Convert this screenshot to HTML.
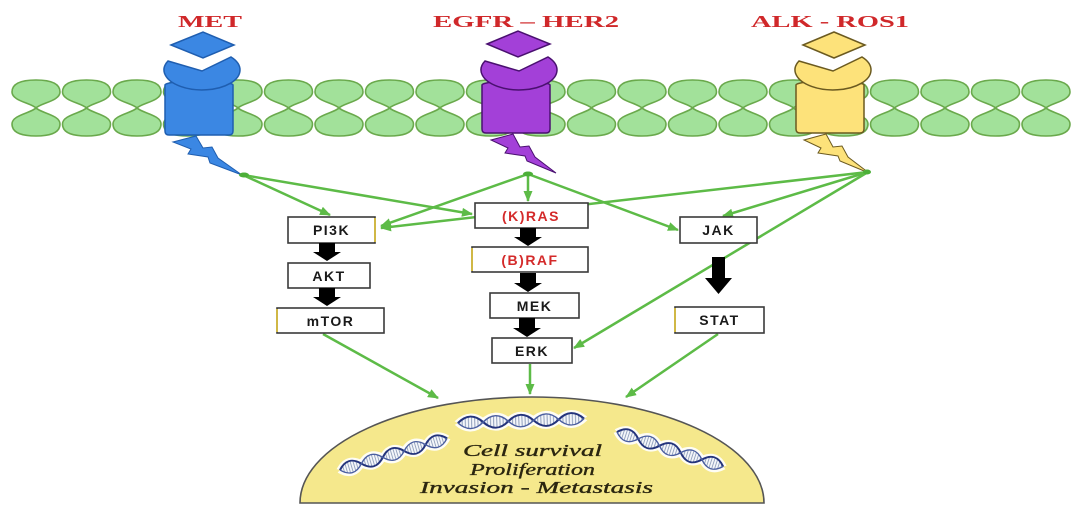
<!DOCTYPE html>
<html>
<head>
<meta charset="utf-8">
<style>
html,body{margin:0;padding:0;background:#fff;}
svg{display:block;}
.lbl{font-family:"Liberation Sans",sans-serif;font-weight:bold;font-size:14px;fill:#1a1a1a;}
.red{fill:#d42a2a;}
.ttl{font-family:"Liberation Serif",serif;font-weight:bold;font-size:17px;fill:#d0282a;}
.ital{font-family:"Liberation Serif",serif;font-style:italic;font-size:17px;fill:#2b2610;stroke:#2b2610;stroke-width:0.35;}
</style>
</head>
<body>
<svg width="1080" height="514" viewBox="0 0 1080 514" xmlns="http://www.w3.org/2000/svg">
<defs>
  <marker id="ah" markerUnits="userSpaceOnUse" markerWidth="11" markerHeight="9" refX="10" refY="4.5" orient="auto">
    <path d="M0,0 L11,4.5 L0,9 Z" fill="#5dbb47"/>
  </marker>
  <g id="leafpair">
    <path d="M0,108 C-5,103 -24,101 -24,92 C-24,82 -12,80 0,80 C12,80 24,82 24,92 C24,101 5,103 0,108 Z" fill="#a2e19a" stroke="#6aa94c" stroke-width="1.6"/>
    <path d="M0,108 C-5,113 -24,115 -24,124 C-24,134 -12,136 0,136 C12,136 24,134 24,124 C24,115 5,113 0,108 Z" fill="#a2e19a" stroke="#6aa94c" stroke-width="1.6"/>
  </g>
  <pattern id="hatch" patternUnits="userSpaceOnUse" width="3" height="6">
    <rect width="3" height="6" fill="#f4f6fa"/>
    <line x1="1" y1="0" x2="1" y2="6" stroke="#8a9ab8" stroke-width="0.9"/>
  </pattern>
  <g id="helix">
    <path d="M0,0 Q12,-16 24,0 Q36,16 48,0 Q60,-16 72,0 Q84,16 96,0 Q108,-16 120,0" fill="none" stroke="#fff" stroke-width="8" opacity="0.9"/>
    <path d="M0,0 Q12,16 24,0 Q36,-16 48,0 Q60,16 72,0 Q84,-16 96,0 Q108,16 120,0" fill="none" stroke="#fff" stroke-width="8" opacity="0.9"/>
    <path d="M0,0 Q12,-16 24,0 Q36,16 48,0 Q60,-16 72,0 Q84,16 96,0 Q108,-16 120,0 Q108,16 96,0 Q84,-16 72,0 Q60,16 48,0 Q36,-16 24,0 Q12,16 0,0 Z" fill="url(#hatch)"/>
    <path d="M0,0 Q12,-16 24,0 Q36,16 48,0 Q60,-16 72,0 Q84,16 96,0 Q108,-16 120,0" fill="none" stroke="#24347c" stroke-width="2.4"/>
    <path d="M0,0 Q12,16 24,0 Q36,-16 48,0 Q60,16 72,0 Q84,-16 96,0 Q108,16 120,0" fill="none" stroke="#4a5ea0" stroke-width="1.7"/>
  </g>
</defs>

<!-- titles -->
<text class="ttl" x="178" y="27" textLength="64" lengthAdjust="spacingAndGlyphs">MET</text>
<text class="ttl" x="433" y="27" textLength="186" lengthAdjust="spacingAndGlyphs">EGFR – HER2</text>
<text class="ttl" x="751" y="27" textLength="158" lengthAdjust="spacingAndGlyphs">ALK - ROS1</text>

<!-- membrane -->
<g>
  <use href="#leafpair" x="36"/><use href="#leafpair" x="86.5"/><use href="#leafpair" x="137"/>
  <use href="#leafpair" x="187.5"/><use href="#leafpair" x="238"/><use href="#leafpair" x="288.5"/>
  <use href="#leafpair" x="339"/><use href="#leafpair" x="389.5"/><use href="#leafpair" x="440"/>
  <use href="#leafpair" x="490.5"/><use href="#leafpair" x="541"/><use href="#leafpair" x="591.5"/>
  <use href="#leafpair" x="642"/><use href="#leafpair" x="692.5"/><use href="#leafpair" x="743"/>
  <use href="#leafpair" x="793.5"/><use href="#leafpair" x="844"/><use href="#leafpair" x="894.5"/>
  <use href="#leafpair" x="945"/><use href="#leafpair" x="995.5"/><use href="#leafpair" x="1046"/>
</g>

<!-- MET receptor -->
<g transform="translate(165,0)">
  <path d="M6,45 L38,32 L69,45 L38,58 Z" fill="#3b87e3" stroke="#1f5eb0" stroke-width="1.5"/>
  <path d="M0,85 L0,131 Q0,135 4,135 L64,135 Q68,135 68,131 L68,85 A34,4 0 0,0 0,85 Z" fill="#3b87e3" stroke="#1f5eb0" stroke-width="1.5"/>
  <path d="M3,61 L37,71 L66,57 A38,20 0 1,1 3,61 Z" fill="#3b87e3" stroke="#1f5eb0" stroke-width="1.5"/>
  <path d="M8,142 L31,136 L38,148 L47,147 L53,158 L77,175 L45,163 L43,157 L23,154 L26,149 Z" fill="#3b87e3" stroke="#1f5eb0" stroke-width="1"/>
</g>
<!-- EGFR receptor -->
<g transform="translate(482,0)">
  <path d="M5,44 L36,31 L68,44 L36,57 Z" fill="#a340d8" stroke="#4a1070" stroke-width="1.5"/>
  <path d="M0,85 L0,129 Q0,133 4,133 L64,133 Q68,133 68,129 L68,85 A34,4 0 0,0 0,85 Z" fill="#a340d8" stroke="#4a1070" stroke-width="1.5"/>
  <path d="M3,61 L37,71 L66,57 A38,20 0 1,1 3,61 Z" fill="#a340d8" stroke="#4a1070" stroke-width="1.5"/>
  <path d="M9,140 L31,134 L38,147 L47,146 L53,157 L74,173 L45,161 L43,156 L23,153 L26,148 Z" fill="#a340d8" stroke="#4a1070" stroke-width="1"/>
</g>
<!-- ALK receptor -->
<g transform="translate(796,0)">
  <path d="M7,45 L38,32 L69,45 L38,58 Z" fill="#fde27a" stroke="#6b5a20" stroke-width="1.5"/>
  <path d="M0,85 L0,129 Q0,133 4,133 L64,133 Q68,133 68,129 L68,85 A34,4 0 0,0 0,85 Z" fill="#fde27a" stroke="#6b5a20" stroke-width="1.5"/>
  <path d="M3,61 L37,71 L66,57 A38,20 0 1,1 3,61 Z" fill="#fde27a" stroke="#6b5a20" stroke-width="1.5"/>
  <path d="M8,140 L30,134 L37,147 L46,146 L52,157 L73,173 L44,161 L42,156 L22,153 L25,148 Z" fill="#fde27a" stroke="#6b5a20" stroke-width="1"/>
</g>

<!-- green connectors -->
<g stroke="#5dbb47" stroke-width="2.5" fill="none" marker-end="url(#ah)">
  <line x1="868" y1="172" x2="381" y2="228"/>
  <line x1="243" y1="175" x2="330" y2="215"/>
  <line x1="243" y1="175" x2="472" y2="214"/>
  <line x1="528" y1="174" x2="528" y2="201"/>
  <line x1="528" y1="174" x2="381" y2="226"/>
  <line x1="528" y1="174" x2="678" y2="230"/>
  <line x1="868" y1="172" x2="723" y2="216"/>
  <line x1="868" y1="172" x2="574" y2="348"/>
  <line x1="323" y1="334" x2="438" y2="398"/>
  <line x1="530" y1="364" x2="530" y2="394"/>
  <line x1="718" y1="334" x2="626" y2="397"/>
</g>
<g fill="#4caf38">
  <ellipse cx="244" cy="175" rx="5" ry="2.5"/>
  <ellipse cx="528" cy="174" rx="5" ry="2.5"/>
  <ellipse cx="867" cy="172" rx="4" ry="2.5"/>
</g>

<!-- boxes -->
<g fill="#fff" stroke="#3a3a3a" stroke-width="1.6">
  <rect x="288" y="217" width="87" height="26"/>
  <rect x="288" y="263" width="82" height="25"/>
  <rect x="277" y="308" width="107" height="25"/>
  <rect x="475" y="203" width="113" height="25"/>
  <rect x="472" y="247" width="116" height="25"/>
  <rect x="490" y="293" width="89" height="25"/>
  <rect x="492" y="338" width="80" height="25"/>
  <rect x="680" y="217" width="77" height="26"/>
  <rect x="675" y="307" width="89" height="26"/>
</g>
<g stroke="#e8c830" stroke-width="1.5">
  <line x1="277" y1="309" x2="277" y2="332"/>
  <line x1="472" y1="248" x2="472" y2="271"/>
  <line x1="675" y1="308" x2="675" y2="332"/>
  <line x1="375" y1="218" x2="375" y2="242"/>
</g>

<!-- labels -->
<text class="lbl" x="331.5" y="235" text-anchor="middle" letter-spacing="1.5">PI3K</text>
<text class="lbl" x="329" y="281" text-anchor="middle" letter-spacing="1.5">AKT</text>
<text class="lbl" x="330.5" y="326" text-anchor="middle" letter-spacing="1.5">mTOR</text>
<text class="lbl red" x="531" y="221" text-anchor="middle" letter-spacing="1.5">(K)RAS</text>
<text class="lbl red" x="530" y="265" text-anchor="middle" letter-spacing="1.5">(B)RAF</text>
<text class="lbl" x="534.5" y="311" text-anchor="middle" letter-spacing="1.5">MEK</text>
<text class="lbl" x="532" y="356" text-anchor="middle" letter-spacing="1.5">ERK</text>
<text class="lbl" x="718.5" y="235" text-anchor="middle" letter-spacing="1.5">JAK</text>
<text class="lbl" x="719.5" y="325" text-anchor="middle" letter-spacing="1.5">STAT</text>

<!-- black block arrows -->
<g fill="#000">
  <path d="M319,243 L335,243 L335,252 L341,252 L327,261 L313,252 L319,252 Z"/>
  <path d="M319,288 L335,288 L335,297 L341,297 L327,306 L313,297 L319,297 Z"/>
  <path d="M520,228 L536,228 L536,237 L542,237 L528,246 L514,237 L520,237 Z"/>
  <path d="M520,273 L536,273 L536,283 L542,283 L528,292 L514,283 L520,283 Z"/>
  <path d="M519,318 L535,318 L535,328 L541,328 L527,337 L513,328 L519,328 Z"/>
  <path d="M712,257 L725,257 L725,278 L732,278 L718.5,294 L705,278 L712,278 Z"/>
</g>

<!-- nucleus half-ellipse -->
<path d="M300,503 A232,106 0 0,1 764,503 Z" fill="#f5e88c" stroke="#555" stroke-width="1.6"/>

<!-- DNA -->
<g transform="translate(458,423) rotate(-2) scale(1.05,0.75)"><use href="#helix"/></g>
<g transform="translate(340,470) rotate(-16.5) scale(0.93,0.75)"><use href="#helix"/></g>
<g transform="translate(617,432) rotate(18) scale(0.93,0.75)"><use href="#helix"/></g>

<!-- nucleus text -->
<text class="ital" x="463" y="456" textLength="139" lengthAdjust="spacingAndGlyphs">Cell survival</text>
<text class="ital" x="470" y="475" textLength="125" lengthAdjust="spacingAndGlyphs">Proliferation</text>
<text class="ital" x="420" y="493" textLength="233" lengthAdjust="spacingAndGlyphs">Invasion - Metastasis</text>
</svg>
</body>
</html>
